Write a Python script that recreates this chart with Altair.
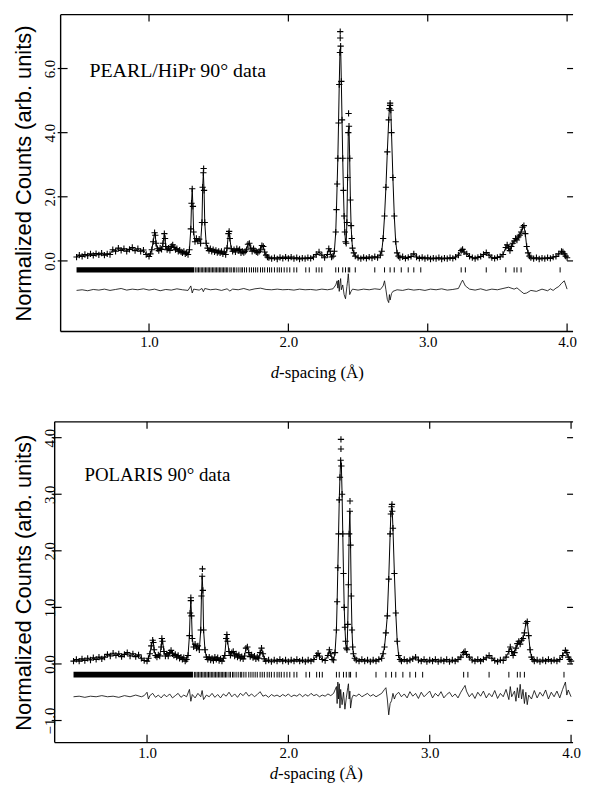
import altair as alt
import pandas as pd

SERIF = "Liberation Serif"
SANS = "Liberation Sans"

# ---------------- data ----------------
x_tick_values = [1.0, 2.0, 3.0, 4.0]
pearl_y_ticks = [0.0, 2.0, 4.0, 6.0]
polaris_y_ticks = [-1.0, 0.0, 1.0, 2.0, 3.0, 4.0]

# PEARL/HiPr observed profile (d-spacing, normalized counts)
pearl_profile = [
    (0.48, 0.12), (0.50, 0.18), (0.52, 0.14), (0.54, 0.20), (0.56, 0.16), (0.58, 0.22),
    (0.60, 0.17), (0.62, 0.23), (0.64, 0.19), (0.66, 0.24), (0.68, 0.18), (0.70, 0.22),
    (0.72, 0.20), (0.74, 0.35), (0.76, 0.30), (0.78, 0.40), (0.80, 0.33), (0.82, 0.38),
    (0.84, 0.30), (0.86, 0.36), (0.88, 0.42), (0.90, 0.32), (0.92, 0.38), (0.94, 0.30),
    (0.96, 0.34), (0.98, 0.20), (1.00, 0.14), (1.01, 0.22), (1.02, 0.35), (1.03, 0.60),
    (1.04, 0.88), (1.045, 0.80), (1.05, 0.55), (1.06, 0.38), (1.07, 0.32), (1.08, 0.40),
    (1.09, 0.36), (1.10, 0.55), (1.11, 0.85), (1.115, 0.70), (1.12, 0.45), (1.13, 0.35),
    (1.14, 0.40), (1.15, 0.33), (1.16, 0.45), (1.17, 0.50), (1.18, 0.42), (1.19, 0.35),
    (1.20, 0.38), (1.21, 0.30), (1.22, 0.34), (1.23, 0.28), (1.24, 0.25), (1.25, 0.30),
    (1.26, 0.22), (1.27, 0.25), (1.28, 0.20), (1.29, 0.35), (1.30, 1.00), (1.305, 1.80),
    (1.31, 2.25), (1.315, 1.70), (1.32, 0.90), (1.33, 0.60), (1.34, 0.70), (1.35, 0.62),
    (1.36, 0.68), (1.37, 0.55), (1.38, 1.20), (1.385, 2.30), (1.39, 2.75), (1.395, 2.20),
    (1.40, 1.20), (1.41, 0.55), (1.42, 0.40), (1.43, 0.32), (1.44, 0.38), (1.45, 0.30),
    (1.46, 0.35), (1.47, 0.28), (1.48, 0.33), (1.49, 0.26), (1.50, 0.30), (1.51, 0.25),
    (1.52, 0.30), (1.53, 0.22), (1.54, 0.28), (1.55, 0.20), (1.56, 0.40), (1.57, 0.85),
    (1.575, 0.92), (1.58, 0.70), (1.59, 0.38), (1.60, 0.30), (1.61, 0.35), (1.62, 0.28),
    (1.63, 0.38), (1.64, 0.32), (1.65, 0.36), (1.66, 0.25), (1.67, 0.30), (1.68, 0.26),
    (1.69, 0.30), (1.70, 0.35), (1.71, 0.52), (1.72, 0.55), (1.73, 0.40), (1.74, 0.30),
    (1.75, 0.38), (1.76, 0.32), (1.77, 0.28), (1.78, 0.26), (1.79, 0.30), (1.80, 0.35),
    (1.81, 0.48), (1.82, 0.45), (1.83, 0.28), (1.84, 0.18), (1.85, 0.12), (1.86, 0.10),
    (1.88, 0.07), (1.90, 0.10), (1.92, 0.06), (1.94, 0.11), (1.96, 0.08), (1.98, 0.12),
    (2.00, 0.08), (2.02, 0.12), (2.04, 0.07), (2.06, 0.10), (2.08, 0.06), (2.10, 0.09),
    (2.12, 0.07), (2.14, 0.10), (2.16, 0.08), (2.18, 0.12), (2.20, 0.20), (2.22, 0.28),
    (2.24, 0.18), (2.26, 0.10), (2.28, 0.20), (2.29, 0.38), (2.30, 0.30), (2.31, 0.12),
    (2.32, 0.15), (2.33, 0.30), (2.34, 0.90), (2.345, 1.60), (2.35, 2.40), (2.355, 3.20),
    (2.36, 4.30), (2.365, 5.50), (2.37, 6.50), (2.375, 6.70), (2.38, 5.60), (2.385, 4.40),
    (2.39, 3.20), (2.395, 2.20), (2.40, 1.40), (2.405, 0.90), (2.41, 0.60), (2.415, 0.55),
    (2.42, 1.20), (2.425, 2.60), (2.43, 4.00), (2.435, 4.20), (2.44, 3.20), (2.445, 1.90),
    (2.45, 1.10), (2.455, 0.70), (2.46, 0.40), (2.47, 0.25), (2.48, 0.15), (2.50, 0.10),
    (2.52, 0.07), (2.54, 0.11), (2.56, 0.08), (2.58, 0.12), (2.60, 0.09), (2.62, 0.13),
    (2.64, 0.10), (2.66, 0.18), (2.67, 0.30), (2.68, 0.70), (2.69, 1.40), (2.70, 2.30),
    (2.71, 3.40), (2.72, 4.40), (2.725, 4.75), (2.73, 4.85), (2.735, 4.70), (2.74, 4.00),
    (2.75, 2.60), (2.76, 1.40), (2.77, 0.60), (2.78, 0.25), (2.79, 0.15), (2.80, 0.10),
    (2.82, 0.13), (2.84, 0.08), (2.86, 0.11), (2.88, 0.14), (2.90, 0.22), (2.92, 0.12),
    (2.94, 0.08), (2.96, 0.11), (2.98, 0.07), (3.00, 0.10), (3.02, 0.06), (3.04, 0.09),
    (3.06, 0.07), (3.08, 0.10), (3.10, 0.06), (3.12, 0.09), (3.14, 0.07), (3.16, 0.10),
    (3.18, 0.08), (3.20, 0.12), (3.22, 0.18), (3.24, 0.32), (3.25, 0.36), (3.26, 0.28),
    (3.28, 0.22), (3.30, 0.14), (3.32, 0.10), (3.34, 0.07), (3.36, 0.11), (3.38, 0.14),
    (3.40, 0.20), (3.42, 0.26), (3.44, 0.18), (3.46, 0.10), (3.48, 0.08), (3.50, 0.11),
    (3.52, 0.13), (3.54, 0.20), (3.56, 0.42), (3.57, 0.50), (3.58, 0.40), (3.59, 0.32),
    (3.60, 0.45), (3.61, 0.55), (3.62, 0.62), (3.63, 0.70), (3.64, 0.65), (3.65, 0.75),
    (3.66, 0.80), (3.67, 0.90), (3.68, 1.05), (3.69, 1.10), (3.70, 0.85), (3.71, 0.45),
    (3.72, 0.25), (3.73, 0.15), (3.74, 0.10), (3.76, 0.07), (3.78, 0.10), (3.80, 0.06),
    (3.82, 0.09), (3.84, 0.07), (3.86, 0.10), (3.88, 0.08), (3.90, 0.12), (3.92, 0.14),
    (3.94, 0.22), (3.96, 0.30), (3.97, 0.28), (3.98, 0.22), (3.99, 0.15), (4.00, 0.10),
]
# isolated observed points standing above the fitted peaks
pearl_peak_marks = [(1.392, 2.88), (2.372, 7.15), (2.372, 6.95), (2.432, 4.60), (2.73, 4.92)]

# PEARL difference curve (offset)
pearl_diff = [
    (0.48, -0.92), (0.52, -0.90), (0.56, -0.93), (0.60, -0.89), (0.64, -0.91), (0.68, -0.88),
    (0.72, -0.92), (0.76, -0.89), (0.80, -0.86), (0.84, -0.91), (0.88, -0.88), (0.92, -0.90),
    (0.96, -0.87), (1.00, -0.91), (1.04, -0.88), (1.08, -0.93), (1.12, -0.89), (1.16, -0.91),
    (1.20, -0.87), (1.24, -0.90), (1.28, -0.92), (1.30, -0.78), (1.31, -1.00), (1.32, -0.88),
    (1.36, -0.91), (1.38, -0.86), (1.39, -0.96), (1.40, -0.86), (1.44, -0.90), (1.48, -0.88),
    (1.52, -0.92), (1.56, -0.87), (1.58, -0.94), (1.60, -0.88), (1.64, -0.90), (1.68, -0.86),
    (1.72, -0.91), (1.76, -0.87), (1.80, -0.85), (1.84, -0.89), (1.88, -0.90), (1.92, -0.88),
    (1.96, -0.90), (2.00, -0.89), (2.04, -0.91), (2.08, -0.88), (2.12, -0.90), (2.16, -0.89),
    (2.20, -0.91), (2.24, -0.88), (2.28, -0.90), (2.32, -0.87), (2.34, -0.75), (2.35, -0.62),
    (2.355, -0.85), (2.36, -0.60), (2.365, -0.95), (2.37, -0.70), (2.375, -0.55), (2.38, -0.90),
    (2.39, -0.75), (2.40, -1.05), (2.41, -1.18), (2.42, -0.80), (2.425, -0.62), (2.43, -0.40),
    (2.435, -0.70), (2.44, -1.05), (2.45, -0.95), (2.46, -0.88), (2.50, -0.91), (2.54, -0.88),
    (2.58, -0.90), (2.62, -0.87), (2.66, -0.89), (2.68, -0.78), (2.69, -0.62), (2.70, -0.90),
    (2.71, -1.20), (2.72, -1.30), (2.725, -1.05), (2.73, -1.22), (2.74, -1.02), (2.75, -0.95),
    (2.78, -0.90), (2.82, -0.92), (2.86, -0.88), (2.90, -0.91), (2.94, -0.89), (2.98, -0.92),
    (3.02, -0.88), (3.06, -0.90), (3.10, -0.87), (3.14, -0.91), (3.18, -0.89), (3.22, -0.86),
    (3.24, -0.68), (3.25, -0.60), (3.27, -0.78), (3.30, -0.88), (3.34, -0.91), (3.38, -0.87),
    (3.42, -0.92), (3.46, -0.88), (3.50, -0.90), (3.54, -0.86), (3.58, -0.82), (3.62, -0.88),
    (3.64, -0.84), (3.67, -0.95), (3.69, -1.02), (3.71, -1.00), (3.74, -0.92), (3.78, -0.95),
    (3.82, -0.88), (3.86, -0.93), (3.88, -0.87), (3.90, -0.92), (3.92, -0.85), (3.94, -0.80),
    (3.96, -0.70), (3.98, -0.62), (4.00, -0.88),
]

# POLARIS observed profile
polaris_profile = [
    (0.48, 0.05), (0.50, 0.08), (0.52, 0.05), (0.54, 0.09), (0.56, 0.06), (0.58, 0.10),
    (0.60, 0.07), (0.62, 0.11), (0.64, 0.08), (0.66, 0.12), (0.68, 0.09), (0.70, 0.12),
    (0.72, 0.17), (0.74, 0.14), (0.76, 0.19), (0.78, 0.15), (0.80, 0.18), (0.82, 0.13),
    (0.84, 0.17), (0.86, 0.20), (0.88, 0.14), (0.90, 0.18), (0.92, 0.13), (0.94, 0.16),
    (0.96, 0.10), (0.98, 0.06), (1.00, 0.05), (1.01, 0.10), (1.02, 0.18), (1.03, 0.32),
    (1.04, 0.42), (1.045, 0.38), (1.05, 0.25), (1.06, 0.15), (1.07, 0.12), (1.08, 0.16),
    (1.09, 0.14), (1.10, 0.30), (1.105, 0.45), (1.11, 0.40), (1.12, 0.22), (1.13, 0.14),
    (1.14, 0.18), (1.15, 0.14), (1.16, 0.20), (1.17, 0.24), (1.18, 0.18), (1.19, 0.15),
    (1.20, 0.17), (1.21, 0.12), (1.22, 0.15), (1.23, 0.10), (1.24, 0.12), (1.25, 0.08),
    (1.26, 0.11), (1.27, 0.05), (1.28, 0.08), (1.29, 0.15), (1.30, 0.50), (1.305, 0.90),
    (1.31, 1.12), (1.315, 0.85), (1.32, 0.45), (1.33, 0.30), (1.34, 0.35), (1.35, 0.28),
    (1.36, 0.32), (1.37, 0.25), (1.38, 0.60), (1.385, 1.20), (1.39, 1.55), (1.395, 1.30),
    (1.40, 0.60), (1.41, 0.25), (1.42, 0.12), (1.43, 0.08), (1.44, 0.12), (1.45, 0.07),
    (1.46, 0.10), (1.47, 0.06), (1.48, 0.12), (1.49, 0.08), (1.50, 0.11), (1.51, 0.06),
    (1.52, 0.09), (1.53, 0.05), (1.54, 0.10), (1.55, 0.15), (1.56, 0.45), (1.565, 0.52),
    (1.57, 0.40), (1.58, 0.22), (1.59, 0.15), (1.60, 0.20), (1.61, 0.22), (1.62, 0.14),
    (1.63, 0.18), (1.64, 0.12), (1.65, 0.16), (1.66, 0.10), (1.67, 0.13), (1.68, 0.09),
    (1.69, 0.14), (1.70, 0.28), (1.71, 0.30), (1.72, 0.20), (1.73, 0.13), (1.74, 0.16),
    (1.75, 0.11), (1.76, 0.14), (1.77, 0.09), (1.78, 0.12), (1.79, 0.10), (1.80, 0.20),
    (1.81, 0.28), (1.82, 0.18), (1.83, 0.09), (1.84, 0.05), (1.86, 0.07), (1.88, 0.04),
    (1.90, 0.07), (1.92, 0.05), (1.94, 0.08), (1.96, 0.05), (1.98, 0.07), (2.00, 0.04),
    (2.02, 0.07), (2.04, 0.05), (2.06, 0.08), (2.08, 0.05), (2.10, 0.07), (2.12, 0.04),
    (2.14, 0.07), (2.16, 0.05), (2.18, 0.08), (2.20, 0.15), (2.21, 0.19), (2.22, 0.14),
    (2.24, 0.08), (2.26, 0.06), (2.28, 0.15), (2.29, 0.25), (2.30, 0.18), (2.31, 0.08),
    (2.32, 0.07), (2.33, 0.20), (2.34, 0.60), (2.345, 1.10), (2.35, 1.70), (2.355, 2.30),
    (2.36, 2.90), (2.365, 3.30), (2.37, 3.60), (2.375, 3.50), (2.38, 3.00), (2.385, 2.30),
    (2.39, 1.60), (2.395, 1.00), (2.40, 0.65), (2.405, 0.40), (2.41, 0.28), (2.415, 0.25),
    (2.42, 0.70), (2.425, 1.40), (2.43, 2.30), (2.435, 2.70), (2.44, 2.10), (2.445, 1.20),
    (2.45, 0.60), (2.455, 0.30), (2.46, 0.18), (2.47, 0.10), (2.48, 0.07), (2.50, 0.05),
    (2.52, 0.08), (2.54, 0.05), (2.56, 0.07), (2.58, 0.04), (2.60, 0.07), (2.62, 0.05),
    (2.64, 0.08), (2.66, 0.10), (2.67, 0.18), (2.68, 0.30), (2.69, 0.55), (2.70, 0.85),
    (2.71, 1.50), (2.72, 2.30), (2.725, 2.65), (2.73, 2.78), (2.735, 2.70), (2.74, 2.40),
    (2.75, 1.60), (2.76, 0.90), (2.77, 0.40), (2.78, 0.15), (2.79, 0.08), (2.80, 0.05),
    (2.82, 0.08), (2.84, 0.05), (2.86, 0.07), (2.88, 0.09), (2.90, 0.12), (2.92, 0.07),
    (2.94, 0.05), (2.96, 0.08), (2.98, 0.04), (3.00, 0.07), (3.02, 0.05), (3.04, 0.08),
    (3.06, 0.04), (3.08, 0.07), (3.10, 0.05), (3.12, 0.08), (3.14, 0.04), (3.16, 0.07),
    (3.18, 0.05), (3.20, 0.08), (3.22, 0.12), (3.24, 0.20), (3.25, 0.22), (3.26, 0.17),
    (3.28, 0.12), (3.30, 0.07), (3.32, 0.05), (3.34, 0.08), (3.36, 0.05), (3.38, 0.08),
    (3.40, 0.11), (3.42, 0.15), (3.44, 0.10), (3.46, 0.06), (3.48, 0.04), (3.50, 0.07),
    (3.52, 0.06), (3.54, 0.12), (3.56, 0.22), (3.57, 0.30), (3.58, 0.22), (3.59, 0.15),
    (3.60, 0.20), (3.61, 0.28), (3.62, 0.36), (3.63, 0.40), (3.64, 0.35), (3.65, 0.42),
    (3.66, 0.45), (3.67, 0.55), (3.68, 0.72), (3.69, 0.75), (3.70, 0.50), (3.71, 0.25),
    (3.72, 0.12), (3.73, 0.08), (3.74, 0.05), (3.76, 0.07), (3.78, 0.04), (3.80, 0.07),
    (3.82, 0.05), (3.84, 0.08), (3.86, 0.05), (3.88, 0.07), (3.90, 0.05), (3.92, 0.08),
    (3.94, 0.15), (3.96, 0.24), (3.97, 0.20), (3.98, 0.12), (3.99, 0.08), (4.00, 0.05),
]
polaris_peak_marks = [(1.31, 1.17), (1.392, 1.68), (2.372, 3.97), (2.372, 3.80),
                      (2.436, 2.88), (2.733, 2.82)]

polaris_diff = [
    (0.48, -0.58), (0.52, -0.57), (0.56, -0.59), (0.60, -0.57), (0.64, -0.58), (0.68, -0.56),
    (0.72, -0.58), (0.76, -0.57), (0.80, -0.59), (0.84, -0.56), (0.88, -0.58), (0.92, -0.55),
    (0.96, -0.58), (0.98, -0.56), (1.00, -0.50), (1.01, -0.62), (1.02, -0.56), (1.04, -0.52),
    (1.06, -0.59), (1.08, -0.55), (1.10, -0.60), (1.12, -0.54), (1.14, -0.58), (1.16, -0.53),
    (1.18, -0.60), (1.20, -0.56), (1.22, -0.52), (1.24, -0.59), (1.26, -0.55), (1.28, -0.58),
    (1.30, -0.45), (1.31, -0.66), (1.32, -0.54), (1.34, -0.60), (1.36, -0.52), (1.38, -0.58),
    (1.39, -0.47), (1.40, -0.63), (1.42, -0.55), (1.44, -0.58), (1.46, -0.52), (1.48, -0.59),
    (1.50, -0.54), (1.52, -0.60), (1.54, -0.53), (1.56, -0.57), (1.58, -0.50), (1.60, -0.58),
    (1.62, -0.53), (1.64, -0.59), (1.66, -0.52), (1.68, -0.56), (1.70, -0.50), (1.72, -0.57),
    (1.74, -0.53), (1.76, -0.58), (1.78, -0.54), (1.80, -0.49), (1.82, -0.57), (1.84, -0.55),
    (1.86, -0.59), (1.88, -0.54), (1.90, -0.57), (1.92, -0.55), (1.94, -0.58), (1.96, -0.54),
    (1.98, -0.57), (2.00, -0.53), (2.02, -0.58), (2.04, -0.55), (2.06, -0.57), (2.08, -0.53),
    (2.10, -0.58), (2.12, -0.54), (2.14, -0.57), (2.16, -0.52), (2.18, -0.56), (2.20, -0.54),
    (2.22, -0.58), (2.24, -0.55), (2.26, -0.57), (2.28, -0.53), (2.30, -0.56), (2.32, -0.52),
    (2.34, -0.40), (2.345, -0.70), (2.35, -0.32), (2.355, -0.62), (2.36, -0.35), (2.365, -0.78),
    (2.37, -0.45), (2.38, -0.72), (2.39, -0.50), (2.40, -0.80), (2.41, -0.60), (2.42, -0.42),
    (2.425, -0.35), (2.43, -0.62), (2.435, -0.48), (2.44, -0.78), (2.45, -0.60), (2.46, -0.55),
    (2.48, -0.57), (2.50, -0.53), (2.52, -0.58), (2.54, -0.55), (2.56, -0.52), (2.58, -0.57),
    (2.60, -0.54), (2.62, -0.58), (2.64, -0.55), (2.66, -0.52), (2.68, -0.45), (2.69, -0.42),
    (2.70, -0.62), (2.71, -0.90), (2.72, -0.70), (2.73, -0.65), (2.74, -0.52), (2.75, -0.62),
    (2.76, -0.55), (2.78, -0.50), (2.80, -0.58), (2.82, -0.53), (2.84, -0.60), (2.86, -0.49),
    (2.88, -0.57), (2.90, -0.52), (2.92, -0.61), (2.94, -0.50), (2.96, -0.58), (2.98, -0.53),
    (3.00, -0.48), (3.02, -0.60), (3.04, -0.52), (3.06, -0.57), (3.08, -0.49), (3.10, -0.60),
    (3.12, -0.54), (3.14, -0.50), (3.16, -0.58), (3.18, -0.53), (3.20, -0.60), (3.22, -0.50),
    (3.24, -0.42), (3.25, -0.38), (3.26, -0.48), (3.28, -0.58), (3.30, -0.52), (3.32, -0.61),
    (3.34, -0.50), (3.36, -0.57), (3.38, -0.48), (3.40, -0.60), (3.42, -0.52), (3.44, -0.58),
    (3.46, -0.47), (3.48, -0.61), (3.50, -0.52), (3.52, -0.58), (3.54, -0.45), (3.56, -0.63),
    (3.57, -0.40), (3.58, -0.58), (3.60, -0.48), (3.61, -0.66), (3.62, -0.42), (3.63, -0.60),
    (3.64, -0.36), (3.65, -0.62), (3.66, -0.45), (3.67, -0.70), (3.68, -0.50), (3.69, -0.72),
    (3.70, -0.55), (3.72, -0.62), (3.74, -0.47), (3.76, -0.60), (3.78, -0.50), (3.80, -0.57),
    (3.82, -0.46), (3.84, -0.62), (3.86, -0.50), (3.88, -0.58), (3.90, -0.48), (3.92, -0.60),
    (3.94, -0.45), (3.96, -0.32), (3.97, -0.55), (3.98, -0.46), (4.00, -0.58),
]

# reflection markers: a continuous band at short d-spacing, then single ticks
refl_band = [(0.48, 1.325)]
refl_ticks = [
    1.335, 1.345, 1.355, 1.365, 1.375, 1.385, 1.395, 1.405, 1.415, 1.425, 1.435, 1.445,
    1.455, 1.465, 1.475, 1.485, 1.495, 1.505, 1.515, 1.525, 1.535, 1.545, 1.555, 1.565,
    1.58, 1.59, 1.605, 1.615, 1.63, 1.645, 1.66, 1.67, 1.685, 1.70, 1.72, 1.735, 1.75,
    1.765, 1.78, 1.80, 1.815, 1.83, 1.85, 1.865, 1.88, 1.90, 1.92, 1.935, 1.95, 1.97,
    1.99, 2.01, 2.04, 2.06, 2.125, 2.15, 2.20, 2.22, 2.24, 2.34, 2.36, 2.39, 2.41, 2.43,
    2.44, 2.48, 2.62, 2.69, 2.73, 2.76, 2.81, 2.86, 2.90, 2.95, 3.24, 3.27, 3.42, 3.56,
    3.62, 3.64, 3.67, 3.95,
]

CROSS = "M-1,0L1,0M0,-1L0,1"


def panel(profile, marks, diff, yticks, ydom, xdom, W, H, x0, label, label_size,
          label_x, label_y, refl_lo, refl_hi, lab_pad, title_pad, xt_split, xt_base):
    xs = alt.Scale(domain=xdom, nice=False, zero=False)
    ys = alt.Scale(domain=ydom, nice=False, zero=False)
    xax = alt.Axis(values=x_tick_values, format=".1f", title=None, ticks=False, tickSize=0,
                   domain=False, grid=False, labelFont=SERIF, labelFontSize=15,
                   labelColor="black", labelPadding=3, labelFlush=False)
    yax = alt.Axis(values=yticks, format=".1f", title="Normalized Counts (arb. units)",
                   ticks=False, tickSize=0, domain=False, grid=False, labelFont=SERIF,
                   labelFontSize=15, labelColor="black", labelAngle=270,
                   labelAlign="center", labelBaseline="alphabetic", labelPadding=lab_pad,
                   titleFont=SANS, titleFontSize=22, titleFontWeight="normal",
                   titleColor="black", titlePadding=title_pad)

    def X(f):
        return alt.X(f, type="quantitative", scale=xs, axis=xax)

    def Y(f):
        return alt.Y(f, type="quantitative", scale=ys, axis=yax)

    prof = pd.DataFrame(profile, columns=["d", "v"])
    mk = pd.DataFrame(marks, columns=["d", "v"])
    df_diff = pd.DataFrame(diff, columns=["d", "v"])
    band = pd.DataFrame(refl_band, columns=["a", "b"])
    band["lo"] = refl_lo
    band["hi"] = refl_hi
    tk = pd.DataFrame({"d": refl_ticks})
    tk["lo"] = refl_lo
    tk["hi"] = refl_hi
    xt = pd.DataFrame({"t": x_tick_values})
    yt = pd.DataFrame({"t": yticks})
    one = pd.DataFrame({"a": [0]})

    pt = dict(shape=CROSS, size=40, filled=False, strokeWidth=1.1, color="black", opacity=1)
    layers = [
        alt.Chart(prof).mark_line(color="black", strokeWidth=1.0).encode(x=X("d"), y=Y("v")),
        alt.Chart(prof).mark_point(**pt).encode(x=X("d"), y=Y("v")),
        alt.Chart(mk).mark_point(**pt).encode(x=X("d"), y=Y("v")),
        alt.Chart(df_diff).mark_line(color="black", strokeWidth=0.8).encode(x=X("d"), y=Y("v")),
        alt.Chart(band).mark_rect(color="black").encode(x=X("a"), x2="b", y=Y("lo"), y2="hi"),
        alt.Chart(tk).mark_rule(color="black", strokeWidth=1).encode(x=X("d"), y=Y("lo"), y2="hi"),
        # frame (top, left, bottom)
        alt.Chart(one).mark_rule(color="black", strokeWidth=1.4).encode(
            x=alt.value(x0), x2=alt.value(W), y=alt.value(0)),
        alt.Chart(one).mark_rule(color="black", strokeWidth=1.4).encode(
            x=alt.value(x0), y=alt.value(0), y2=alt.value(H)),
        alt.Chart(one).mark_rule(color="black", strokeWidth=1.4).encode(
            x=alt.value(x0), x2=alt.value(W), y=alt.value(H)),
        # inward ticks
        alt.Chart(xt).mark_rule(color="black", strokeWidth=1.2).encode(
            x=X("t"), y=alt.value(H), y2=alt.value(H - 8)),
        alt.Chart(xt).mark_rule(color="black", strokeWidth=1.2).encode(
            x=X("t"), y=alt.value(0), y2=alt.value(7)),
        alt.Chart(yt).mark_rule(color="black", strokeWidth=1.2).encode(
            y=Y("t"), x=alt.value(x0 - 3), x2=alt.value(x0 + 7)),
        alt.Chart(yt).mark_rule(color="black", strokeWidth=1.2).encode(
            y=Y("t"), x=alt.value(W - 6), x2=alt.value(W)),
        # panel label
        alt.Chart(one).mark_text(text=label, font=SERIF, fontSize=label_size, align="left",
                                 baseline="alphabetic", color="black").encode(
            x=alt.value(label_x), y=alt.value(label_y)),
        # x title: italic d + "-spacing (Å)"
        alt.Chart(one).mark_text(text="d", font=SERIF, fontSize=17, fontStyle="italic",
                                 align="right", baseline="alphabetic", color="black").encode(
            x=alt.value(xt_split), y=alt.value(xt_base)),
        alt.Chart(one).mark_text(text="-spacing (Å)", font=SERIF, fontSize=17, align="left",
                                 baseline="alphabetic", color="black").encode(
            x=alt.value(xt_split), y=alt.value(xt_base)),
    ]
    return alt.layer(*layers).properties(width=W, height=H)


W = 522
top = panel(pearl_profile, pearl_peak_marks, pearl_diff, pearl_y_ticks,
            ydom=[-2.2, 7.68], xdom=[0.323, 4.0428], W=W, H=319, x0=6,
            label="PEARL/HiPr 90° data", label_size=20, label_x=35, label_y=63,
            refl_lo=-0.36, refl_hi=-0.2, lab_pad=0, title_pad=7,
            xt_split=226, xt_base=319 + 47)

bottom = panel(polaris_profile, polaris_peak_marks, polaris_diff, polaris_y_ticks,
               ydom=[-1.39, 4.28], xdom=[0.3466, 4.0141], W=W, H=323, x0=0,
               label="POLARIS 90° data", label_size=19, label_x=30, label_y=60,
               refl_lo=-0.24, refl_hi=-0.14, lab_pad=0, title_pad=7,
               xt_split=225, xt_base=323 + 37)

chart = alt.vconcat(top, bottom, spacing=91, bounds="flush").configure_view(
    stroke="transparent").properties(
    padding={"left": 4, "top": 2, "right": 0, "bottom": 0})

chart.save("out.html", embed_options={"renderer": "svg", "actions": False})
